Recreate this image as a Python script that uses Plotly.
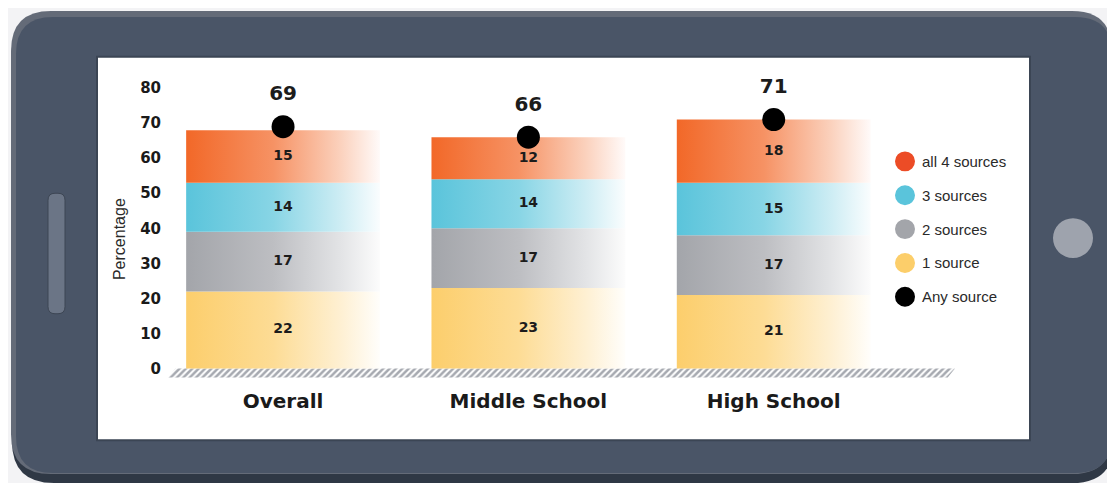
import plotly.graph_objects as go

# ---------------- data ----------------
categories = ["Overall", "Middle School", "High School"]
series_names = ["1 source", "2 sources", "3 sources", "all 4 sources"]   # bottom -> top
series_values = {
    "1 source": [22, 23, 21],
    "2 sources": [17, 17, 17],
    "3 sources": [14, 14, 15],
    "all 4 sources": [15, 12, 18],
}
any_source_name = "Any source"
any_source = [69, 66, 71]
y_ticks = [0, 10, 20, 30, 40, 50, 60, 70, 80]
y_title = "Percentage"

# ---------------- style ----------------
W, H = 1115, 483
OFF = 8  # page body margin
series_colors = {
    "1 source": (252, 206, 108),
    "2 sources": (163, 165, 170),
    "3 sources": (90, 196, 219),
    "all 4 sources": (242, 104, 40),
}
legend_colors = {
    "1 source": "#fcce6a",
    "2 sources": "#a3a5aa",
    "3 sources": "#5ac4db",
    "all 4 sources": "#ec4c26",
    "Any source": "#000000",
}
BAR_W = 0.79
X_RANGE = [-0.469, 2.739]
Y_RANGE = [-3, 82]
BOLD = "DejaVu Sans"


def px(x):
    return (x - OFF) / W


def py(y):
    return 1 - (y - OFF) / H


def mix(c, t):
    r, g, b = c
    return "rgb(%d,%d,%d)" % (round(r * t + 255 * (1 - t)), round(g * t + 255 * (1 - t)), round(b * t + 255 * (1 - t)))


def rrect(x0, y0, x1, y1, r):
    return (f"M {px(x0 + r)},{py(y0)} L {px(x1 - r)},{py(y0)} Q {px(x1)},{py(y0)} {px(x1)},{py(y0 + r)} "
            f"L {px(x1)},{py(y1 - r)} Q {px(x1)},{py(y1)} {px(x1 - r)},{py(y1)} "
            f"L {px(x0 + r)},{py(y1)} Q {px(x0)},{py(y1)} {px(x0)},{py(y1 - r)} "
            f"L {px(x0)},{py(y0 + r)} Q {px(x0)},{py(y0)} {px(x0 + r)},{py(y0)} Z")


def pshape(**kw):
    d = dict(xref="paper", yref="paper")
    d.update(kw)
    return d


fig = go.Figure()

# hatched baseline
fig.add_trace(go.Scatter(
    x=[X_RANGE[0] + 0.03, X_RANGE[1], X_RANGE[1] - 0.03, X_RANGE[0], X_RANGE[0] + 0.03],
    y=[0, 0, Y_RANGE[0] + 0.4, Y_RANGE[0] + 0.4, 0],
    mode="lines", fill="toself", line=dict(width=0), fillcolor="rgba(0,0,0,0)",
    fillpattern=dict(shape="/", fgcolor="#4d5462", bgcolor="white", size=4.5, solidity=0.55),
    showlegend=False, hoverinfo="skip"))

# stacked gradient bars
positions = list(range(len(categories)))
bases = [0] * len(categories)
label_x, label_y, label_t = [], [], []
for name in series_names:
    vals = series_values[name]
    c = series_colors[name]
    for i, v in enumerate(vals):
        x0, x1 = positions[i] - BAR_W / 2, positions[i] + BAR_W / 2
        b = bases[i]
        fig.add_trace(go.Scatter(
            x=[x0, x1, x1, x0, x0], y=[b, b, b + v, b + v, b],
            mode="lines", fill="toself", line=dict(width=0),
            fillgradient=dict(type="horizontal", start=x0, stop=x1,
                              colorscale=[[0, mix(c, 1.0)], [0.45, mix(c, 0.72)],
                                          [0.8, mix(c, 0.3)], [1, mix(c, 0.03)]]),
            showlegend=False, hoverinfo="skip"))
        label_x.append(positions[i])
        label_y.append(b + v / 2)
        label_t.append(str(v))
        bases[i] = b + v

fig.add_trace(go.Scatter(
    x=label_x, y=label_y, text=label_t, mode="text",
    textfont=dict(family=BOLD, size=14, color="#1c1c1c", weight="bold"),
    showlegend=False, hoverinfo="skip", cliponaxis=False))

# any source dots and labels
fig.add_trace(go.Scatter(
    x=positions, y=any_source, mode="markers", cliponaxis=False,
    marker=dict(size=23, color="black"), showlegend=False, hoverinfo="skip"))
fig.add_trace(go.Scatter(
    x=positions, y=[v + 9 for v in any_source], text=[str(v) for v in any_source],
    mode="text", textfont=dict(family=BOLD, size=20, color="#1c1c1c", weight="bold"),
    showlegend=False, hoverinfo="skip", cliponaxis=False))

# ---------------- phone frame ----------------
shapes = [
    pshape(type="path", path=rrect(12, 14, 1114, 483, 42), fillcolor="#2f3845", line=dict(width=0), layer="below"),
    pshape(type="path", path=rrect(11, 9, 1112, 474, 40), fillcolor="#646b78", line=dict(width=0), layer="below"),
    pshape(type="path", path=rrect(16, 15, 1112, 473, 37), fillcolor="#4a5567", line=dict(width=0), layer="below"),
    pshape(type="rect", x0=px(97), x1=px(1030), y0=py(440), y1=py(55), fillcolor="white",
           line=dict(color="#3b4554", width=2), layer="below"),
    pshape(type="path", path=rrect(48, 192, 65, 313, 7), fillcolor="#6b7586",
           line=dict(color="#3d4654", width=1), layer="below"),
    pshape(type="circle", x0=px(1053), x1=px(1093), y0=py(257), y1=py(217), fillcolor="#9ea3ad",
           line=dict(width=0), layer="below"),
]

# ---------------- legend ----------------
annotations = []
legend_names = list(reversed(series_names)) + [any_source_name]
for k, name in enumerate(legend_names):
    cy = 160 + 34 * k
    shapes.append(pshape(type="circle", x0=px(895), x1=px(915), y0=py(cy + 10), y1=py(cy - 10),
                         fillcolor=legend_colors[name], line=dict(width=0), layer="above"))
    annotations.append(dict(x=px(920), y=py(cy), xref="paper", yref="paper", text=name,
                            showarrow=False, xanchor="left", yanchor="middle",
                            font=dict(family="Liberation Sans", size=15, color="#2a2a2a")))

annotations.append(dict(x=px(119), y=py(238), xref="paper", yref="paper", text=y_title,
                        showarrow=False, textangle=-90, xanchor="center", yanchor="middle",
                        font=dict(family="Liberation Sans", size=16, color="#2a2a2a")))

y_px_bottom = 368 - 3.52 * Y_RANGE[0]
y_px_top = 368 - 3.52 * Y_RANGE[1]

fig.update_layout(
    width=W, height=H, margin=dict(l=0, r=0, t=0, b=0),
    paper_bgcolor="#f3f3f5", plot_bgcolor="rgba(0,0,0,0)",
    shapes=shapes, annotations=annotations, showlegend=False,
    xaxis=dict(domain=[px(168), px(955)], range=X_RANGE, tickvals=positions, ticktext=categories,
               showgrid=False, zeroline=False, showline=False, ticks="", ticklabelstandoff=8,
               tickfont=dict(family=BOLD, size=20, color="#1a1a1a", weight="bold"), fixedrange=True),
    yaxis=dict(domain=[py(y_px_bottom), py(y_px_top)], range=Y_RANGE, tickvals=y_ticks,
               showgrid=False, zeroline=False, showline=False, ticks="", ticklabelstandoff=6,
               tickfont=dict(family=BOLD, size=15, color="#1a1a1a", weight="bold"), fixedrange=True),
)

fig.write_html("out.html")
